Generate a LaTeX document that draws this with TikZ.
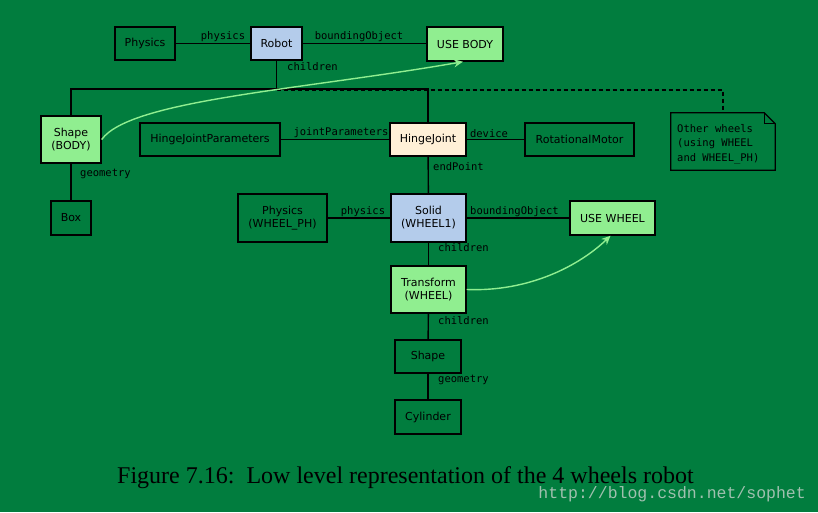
\documentclass[tikz,border=0pt]{standalone}
\usepackage{fontspec}
\setmainfont{DejaVu Sans}
\newfontfamily\monofont{DejaVu Sans Mono}
\newfontfamily\capfont{Liberation Serif}
\newfontfamily\wmfont{Liberation Mono}
\usetikzlibrary{shapes.misc,arrows.meta}
\definecolor{bg}{RGB}{1,125,62}
\definecolor{lblue}{RGB}{180,204,235}
\definecolor{lgreen}{RGB}{144,238,144}
\definecolor{cream}{RGB}{255,240,215}
\definecolor{wm}{RGB}{160,192,175}
\tikzset{
  box/.style={draw=black, line width=1.4pt, fill=bg, font=\fontsize{11}{13}\selectfont, align=center, inner sep=0pt},
  lbl/.style={font=\monofont\fontsize{10.5}{14.5}\selectfont, inner sep=0pt},
  conn/.style={line width=1.4pt, black},
  ref/.style={line width=1.4pt, lgreen, -{Stealth[length=9pt,width=8pt]}},
}
\begin{document}
\begin{tikzpicture}[x=1pt,y=-1pt]
\useasboundingbox (0,0) rectangle (818,512);
\fill[bg] (0,0) rectangle (818,512);
% coordinates of the tree
\coordinate (bar) at (276.5,89);
\coordinate (barL) at (71,89);
\coordinate (barR) at (428,89);
\coordinate (dashS) at (276.5,90);
\coordinate (dashE) at (723,90);
\coordinate (noteTop) at (723,113);
% connectors drawn first
\draw[conn] (145,43.5) -- (465,43.5);
\draw[conn] (276.5,43.5) -- (bar);
\draw[conn] (71,139.5) -- (barL) -- (barR) -- (428,139.5);
\draw[conn, dash pattern=on 4pt off 3pt, line width=1.2pt] (dashS) -- (dashE) -- (noteTop);
% nodes
\node[box, minimum width=60, minimum height=33] (phys) at (145,43.5) {Physics};
\node[box, fill=lblue, minimum width=51, minimum height=33] (robot) at (276.5,43.5) {Robot};
\node[box, fill=lgreen, minimum width=76, minimum height=34] (usebody) at (465,44) {USE BODY};
\node[box, fill=lgreen, minimum width=60, minimum height=47] (shapebody) at (71,139.5) {Shape\\(BODY)};
\node[box, minimum width=40, minimum height=34] (boxn) at (71,218) {Box};
\node[box, minimum width=140, minimum height=33] (hjp) at (210,139.5) {HingeJointParameters};
\node[box, fill=cream, minimum width=76, minimum height=33] (hj) at (428,139.5) {HingeJoint};
\node[box, minimum width=109, minimum height=33] (motor) at (579.5,139.5) {RotationalMotor};
\node[box, minimum width=89, minimum height=48] (physwh) at (282.5,218) {Physics\\(WHEEL\_PH)};
\node[box, fill=lblue, minimum width=75, minimum height=48] (solid) at (428.5,218) {Solid\\(WHEEL1)};
\node[box, fill=lgreen, minimum width=85, minimum height=34] (usewheel) at (612.5,218) {USE WHEEL};
\node[box, fill=lgreen, minimum width=75, minimum height=47] (transform) at (428.5,289.5) {Transform\\(WHEEL)};
\node[box, minimum width=66, minimum height=33] (shape) at (428,356.5) {Shape};
\node[box, minimum width=66, minimum height=34] (cyl) at (428,417) {Cylinder};
% note with folded corner
\node[minimum width=104, minimum height=57, inner sep=0pt] (note) at (723,141.5) {};
\draw[line width=1.2pt, fill=bg] (note.north west) -- ([xshift=-11]note.north east) -- ([yshift=-11]note.north east) -- (note.south east) -- (note.south west) -- cycle;
\draw[line width=1.0pt] ([xshift=-11]note.north east) -- ([xshift=-11,yshift=-11]note.north east) -- ([yshift=-11]note.north east);
\node[lbl, align=left, anchor=west] (notetext) at (677,144) {Other wheels\\(using WHEEL\\and WHEEL\_PH)};
% connectors between nodes
\draw[conn] (shapebody) -- (boxn);
\draw[conn] (hjp) -- (hj);
\draw[conn] (hj) -- (motor);
\draw[conn] (hj) -- (solid);
\draw[conn] (physwh) -- (solid);
\draw[conn] (solid) -- (usewheel);
\draw[conn] (solid) -- (transform);
\draw[conn] (transform) -- (shape);
\draw[conn] (shape) -- (cyl);
% labels
\node[lbl, anchor=south] (l1) at (223,42) {physics};
\node[lbl, anchor=south] (l2) at (359,42) {boundingObject};
\node[lbl, anchor=west] (l3) at (287,67) {children};
\node[lbl, anchor=west] (l4) at (80,174) {geometry};
\node[lbl, anchor=south] (l5) at (341,138) {jointParameters};
\node[lbl, anchor=south] (l6) at (489,138) {device};
\node[lbl, anchor=west] (l7) at (433,167) {endPoint};
\node[lbl, anchor=south] (l8) at (363,216.5) {physics};
\node[lbl, anchor=south west] (l9) at (470,216.5) {boundingObject};
\node[lbl, anchor=west] (l10) at (438,248) {children};
\node[lbl, anchor=west] (l11) at (438,321) {children};
\node[lbl, anchor=west] (l12) at (438,380) {geometry};
% reference arrows
\draw[ref] (shapebody.east) .. controls (130,100) and (300,90) .. ([xshift=-2]usebody.south);
\draw[ref] (transform.east) .. controls (530,292) and (580,265) .. ([xshift=-2]usewheel.south);
% caption
\node[font=\capfont\fontsize{24}{28}\selectfont, anchor=base west, inner sep=0pt] (cap) at (117,483) {Figure 7.16:\ \ Low level representation of the 4 wheels robot};
\node[font=\wmfont\fontsize{16.5}{18}\selectfont, text=wm, anchor=base east, inner sep=0pt] (wmk) at (806,498) {http://blog.csdn.net/sophet};
\end{tikzpicture}
\end{document}
